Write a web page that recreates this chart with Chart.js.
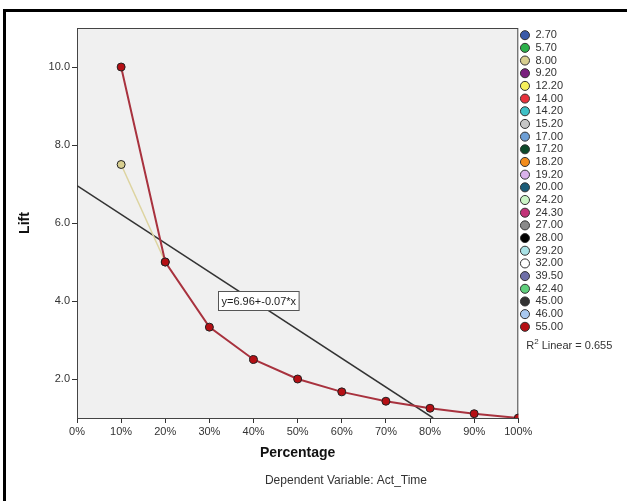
<!DOCTYPE html>
<html>
<head>
<meta charset="utf-8">
<script src="https://cdn.jsdelivr.net/npm/chart.js@4.4.1/dist/chart.umd.min.js"></script>
<style>
  html, body { margin: 0; padding: 0; background: #fff; }
  #wrap { width: 627px; height: 501px; position: relative; }
</style>
</head>
<body>
<div id="wrap"><canvas id="lift" width="627" height="501"></canvas></div>
<script>
// values
const percents = [10, 20, 30, 40, 50, 60, 70, 80, 90, 100];
const lift55 = [10.0, 5.0, 3.33, 2.5, 2.0, 1.67, 1.43, 1.25, 1.11, 1.0];
const percents8 = [10, 20];
const lift8 = [7.5, 5.0];
const fitX = [0, 80.7];
const fitY = [6.96, 1.0];
const yTicks = [2, 4, 6, 8, 10];
const xTicks = [0, 10, 20, 30, 40, 50, 60, 70, 80, 90, 100];

const groupNames = ['2.70', '5.70', '8.00', '9.20', '12.20', '14.00', '14.20', '15.20',
  '17.00', '17.20', '18.20', '19.20', '20.00', '24.20', '24.30', '27.00', '28.00',
  '29.20', '32.00', '39.50', '42.40', '45.00', '46.00', '55.00'];
const groupColors = ['#3a5aa8', '#2bb04a', '#d8cf90', '#7a1f7e', '#f6ef5c', '#e8323c',
  '#3fc0c6', '#c6c6c6', '#6e9fd6', '#0d4a2a', '#f28c1c', '#dab2ea', '#1b5c78',
  '#cbf5c6', '#c23278', '#8a8a8a', '#000000', '#a9e2e6', '#ffffff', '#6f6fa8',
  '#5fcf7c', '#333333', '#a9c9f0', '#b50f14'];

const FONT = '"Liberation Sans", Arial, sans-serif';

// which groups have visible points
const groupData = {
  '55.00': { x: percents, y: lift55, line: '#a8323e', width: 2, order: 0 },
  '8.00': { x: percents8, y: lift8, line: '#ddd4a0', width: 1.5, order: 1 }
};

const datasets = groupNames.map((name, i) => {
  const g = groupData[name];
  const pts = g ? g.x.map((x, k) => ({ x: x, y: g.y[k] })) : [];
  return {
    label: name,
    data: pts,
    backgroundColor: groupColors[i],
    pointBackgroundColor: groupColors[i],
    pointBorderColor: '#222',
    pointBorderWidth: 1,
    pointRadius: 4,
    borderColor: g ? g.line : groupColors[i],
    borderWidth: g ? g.width : 1,
    pointStyle: 'circle',
    order: g ? g.order : 2
  };
});

datasets.push({
  label: 'fit',
  data: fitX.map((x, k) => ({ x: x, y: fitY[k] })),
  borderColor: '#333',
  borderWidth: 1.5,
  pointRadius: 0,
  order: 3
});

const decor = {
  id: 'decor',
  beforeDraw(chart) {
    const ctx = chart.ctx;
    const a = chart.chartArea;
    ctx.save();
    ctx.fillStyle = '#fff';
    ctx.fillRect(0, 0, chart.width, chart.height);
    ctx.fillStyle = '#000';
    ctx.fillRect(3, 9, chart.width - 3, 3);
    ctx.fillRect(3, 9, 3, chart.height - 9);
    ctx.fillStyle = '#f0f0f0';
    ctx.fillRect(a.left, a.top, a.right - a.left, a.bottom - a.top);
    ctx.restore();
  },
  beforeDatasetsDraw(chart) {
    const ctx = chart.ctx;
    const a = chart.chartArea;
    ctx.save();
    ctx.strokeStyle = '#444';
    ctx.lineWidth = 1;
    ctx.strokeRect(a.left + 0.5, a.top + 0.5, a.right - a.left - 1, a.bottom - a.top);
    ctx.restore();
  },
  afterDraw(chart) {
    const ctx = chart.ctx;
    const xs = chart.scales.x, ys = chart.scales.y;
    ctx.save();
    // equation label
    ctx.font = '11px ' + FONT;
    const eq = 'y=6.96+-0.07*x';
    const bx = Math.round(xs.getPixelForValue(32.0)) + 0.5;
    const by = Math.round(ys.getPixelForValue(4.26)) + 0.5;
    const bw = ctx.measureText(eq).width + 6;
    ctx.fillStyle = '#fff';
    ctx.fillRect(bx, by, bw, 19);
    ctx.strokeStyle = '#555';
    ctx.lineWidth = 1;
    ctx.strokeRect(bx, by, bw, 19);
    ctx.fillStyle = '#222';
    ctx.textBaseline = 'middle';
    ctx.textAlign = 'left';
    ctx.fillText(eq, bx + 3, by + 10);

    // R squared note under the legend
    const lg = chart.legend;
    let rx = lg.left + 8;
    const ry = 346;
    ctx.fillStyle = '#333';
    ctx.font = '11px ' + FONT;
    ctx.fillText('R', rx, ry);
    rx += ctx.measureText('R').width;
    ctx.font = '8px ' + FONT;
    ctx.fillText('2', rx, ry - 4);
    rx += ctx.measureText('2').width + 3;
    ctx.font = '11px ' + FONT;
    ctx.fillText('Linear = 0.655', rx, ry);

    // footnote
    ctx.font = '12px ' + FONT;
    ctx.textAlign = 'center';
    ctx.fillText('Dependent Variable: Act_Time', 346, 481);
    ctx.restore();
  }
};

const defaultLabels = Chart.defaults.plugins.legend.labels.generateLabels;

new Chart(document.getElementById('lift'), {
  type: 'line',
  data: { datasets: datasets },
  options: {
    responsive: false,
    devicePixelRatio: 1,
    animation: false,
    layout: { padding: { left: 12.6, top: 28, right: 54, bottom: 35.6 } },
    scales: {
      x: {
        type: 'linear',
        min: 0,
        max: 100,
        afterBuildTicks(scale) { scale.ticks = xTicks.map(v => ({ value: v })); },
        afterFit(scale) { scale.height = 47.4; },
        ticks: {
          callback: v => v + '%',
          color: '#333',
          font: { family: FONT, size: 11 },
          maxRotation: 0,
          padding: 2
        },
        grid: { drawOnChartArea: false, drawTicks: true, tickLength: 5, color: '#333' },
        border: { display: true, color: '#333', width: 1 },
        title: {
          display: true,
          text: 'Percentage',
          color: '#111',
          font: { family: FONT, size: 14, weight: 'bold' },
          padding: { top: 4, bottom: 4 }
        }
      },
      y: {
        type: 'linear',
        min: 1,
        max: 11,
        afterBuildTicks(scale) { scale.ticks = yTicks.map(v => ({ value: v })); },
        afterFit(scale) { scale.width = 64.4; },
        ticks: {
          callback: v => v.toFixed(1),
          color: '#333',
          font: { family: FONT, size: 11 },
          padding: 2
        },
        grid: { drawOnChartArea: false, drawTicks: true, tickLength: 5, color: '#333' },
        border: { display: true, color: '#333', width: 1 },
        title: {
          display: true,
          text: 'Lift',
          color: '#111',
          font: { family: FONT, size: 14, weight: 'bold' },
          padding: { top: 4, bottom: 4 }
        }
      }
    },
    plugins: {
      legend: {
        position: 'right',
        align: 'start',
        labels: {
          usePointStyle: true,
          boxWidth: 10,
          boxHeight: 6.4,
          padding: 1.68,
          color: '#333',
          font: { family: FONT, size: 11 },
          filter: item => item.text !== 'fit',
          sort: (a, b) => a.datasetIndex - b.datasetIndex,
          generateLabels(chart) {
            return defaultLabels(chart).map(l => {
              l.strokeStyle = '#333';
              l.lineWidth = 1;
              return l;
            });
          }
        },
        onClick: null
      },
      tooltip: { enabled: false }
    }
  },
  plugins: [decor]
});
</script>
</body>
</html>
